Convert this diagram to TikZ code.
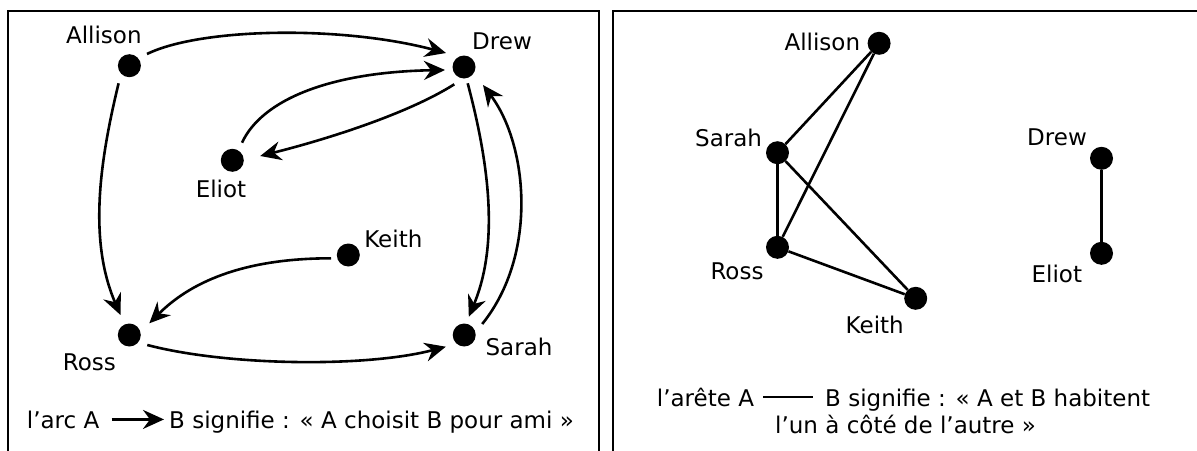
\documentclass[tikz,border=0pt]{standalone}
\usepackage{fontspec}
\setmainfont{DejaVu Sans}
\usetikzlibrary{arrows.meta,calc}
\newcommand\lblfont{\fontsize{23}{27}\selectfont}
\begin{document}
\begin{tikzpicture}[x=1pt,y=-1pt,
  dot/.style={circle,fill=black,inner sep=0pt,minimum size=23pt},
  lbl/.style={inner sep=0pt,anchor=base,font=\lblfont},
  arc/.style={line width=2.6pt,-{Stealth[length=21pt,width=19pt,inset=7pt]}},
  link/.style={line width=2.6pt},
  frame/.style={line width=2.4pt}]
\clip (0,0) rectangle (1197,450);
\draw[frame] (8,11) rectangle (599,470);
\draw[frame] (613,11) rectangle (1220,470);
% left graph
\node[dot] (A) at (129.4,65.7) {};
\node[dot] (D) at (464,67) {};
\node[dot] (E) at (232.3,160.3) {};
\node[dot] (K) at (348.3,255) {};
\node[dot] (R) at (129.3,335) {};
\node[dot] (S) at (464.2,335) {};
\node[lbl] (lA) at (103.8,43.3) {Allison};
\node[lbl] (lD) at (502,49) {Drew};
\node[lbl] (lE) at (221,197.3) {Eliot};
\node[lbl] (lK) at (393.3,247.7) {Keith};
\node[lbl] (lR) at (89.4,370) {Ross};
\node[lbl] (lS) at (519,355.7) {Sarah};
\draw[arc] ($(A)+(17.6,-11.7)$) .. controls +(53,-26) and +(-106,-28) .. ($(D)+(-18,-14)$);
\draw[arc] ($(E)+(9.7,-17.6)$) .. controls +(20,-43) and +(-115,2) .. ($(D)+(-19,3)$);
\draw[arc] ($(D)+(-9.7,17.3)$) .. controls +(-49,31) and +(60,-15) .. ($(E)+(27.9,-4.3)$);
\draw[arc] ($(A)+(-10.8,17.6)$) .. controls +(-18.6,76.7) and +(-32.5,-75) .. ($(R)+(-8.8,-20)$);
\draw[arc] ($(D)+(3.7,16.3)$) .. controls +(20.3,76.7) and +(31.2,-74.7) .. ($(S)+(4.6,-18.3)$);
\draw[arc] ($(S)+(18,-11)$) .. controls +(55.8,-69) and +(45,60) .. ($(D)+(19,18)$);
\draw[arc] ($(K)+(-17.3,3.3)$) .. controls +(-90,0) and +(40,-40) .. ($(R)+(20,-11.7)$);
\draw[arc] ($(R)+(18,10)$) .. controls +(80,21) and +(-80,21) .. ($(S)+(-18.4,11.7)$);
\node[lbl,anchor=base west] (c1) at (26.7,428) {l’arc A};
\node[lbl,anchor=base west] (c2) at (169,428) {B signifie : « A choisit B pour ami »};
\draw[arc] ([xshift=12pt]c1.east) -- ([xshift=-5pt]c1.east -| c2.west);
% right graph
\node[dot] (rA) at (879.1,43.3) {};
\node[dot] (rS) at (777.5,152.7) {};
\node[dot] (rR) at (777.5,247.3) {};
\node[dot] (rK) at (915.7,298.3) {};
\node[dot] (rD) at (1101.5,158.3) {};
\node[dot] (rE) at (1101.5,253.3) {};
\node[lbl] (mA) at (822.3,50) {Allison};
\node[lbl] (mS) at (728.6,146) {Sarah};
\node[lbl] (mR) at (737,279.3) {Ross};
\node[lbl] (mK) at (874.7,333.3) {Keith};
\node[lbl] (mD) at (1057,145) {Drew};
\node[lbl] (mE) at (1056.8,282.7) {Eliot};
\draw[link] (rA) -- (rS);
\draw[link] (rA) -- (rR);
\draw[link] (rS) -- (rR);
\draw[link] (rS) -- (rK);
\draw[link] (rR) -- (rK);
\draw[link] (rD) -- (rE);
\node[lbl,anchor=base west] (d1) at (656.7,406) {l’arête A};
\node[lbl,anchor=base west] (d2) at (825,406) {B signifie : « A et B habitent};
\node[lbl,anchor=base west] (d3) at (775,433) {l’un à côté de l’autre »};
\draw[link] ([xshift=9pt]d1.east) -- ([xshift=-12pt]d1.east -| d2.west);
\end{tikzpicture}
\end{document}
